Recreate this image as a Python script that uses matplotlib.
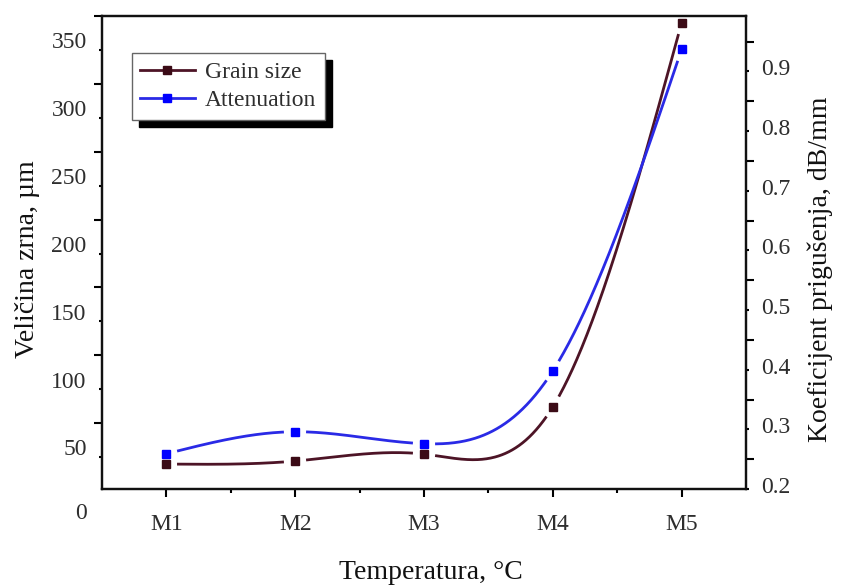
import numpy as np
import matplotlib
matplotlib.use("Agg")
import matplotlib.pyplot as plt
from matplotlib.patches import Rectangle
from matplotlib.transforms import ScaledTranslation

plt.rcParams['font.family'] = ['Liberation Serif', 'DejaVu Serif']

# Data
samples = ['M1', 'M2', 'M3', 'M4', 'M5']
grain_size = [44.9, 47.1, 52.2, 87.0, 370.0]        # um, left axis
attenuation = [0.259, 0.296, 0.276, 0.398, 0.937]   # dB/mm, right axis

left_ticks = [50, 100, 150, 200, 250, 300, 350]
right_ticks = [0.2, 0.3, 0.4, 0.5, 0.6, 0.7, 0.8, 0.9]

grain_line = '#4d1426'
grain_mark = '#3b0b16'
att_line = '#2a2ae6'
att_mark = '#0000ff'
text_col = '#2e2e2e'


def natural_spline(x, y, xs):
    x = np.asarray(x, float)
    y = np.asarray(y, float)
    n = len(x)
    h = np.diff(x)
    A = np.zeros((n, n))
    r = np.zeros(n)
    A[0, 0] = A[-1, -1] = 1
    for i in range(1, n - 1):
        A[i, i - 1] = h[i - 1]
        A[i, i] = 2 * (h[i - 1] + h[i])
        A[i, i + 1] = h[i]
        r[i] = 3 * ((y[i + 1] - y[i]) / h[i] - (y[i] - y[i - 1]) / h[i - 1])
    c = np.linalg.solve(A, r)
    b = (y[1:] - y[:-1]) / h - h * (2 * c[:-1] + c[1:]) / 3
    d = (c[1:] - c[:-1]) / (3 * h)
    idx = np.clip(np.searchsorted(x, xs) - 1, 0, n - 2)
    dx = xs - x[idx]
    return y[idx] + b[idx] * dx + c[idx] * dx ** 2 + d[idx] * dx ** 3


fig = plt.figure(figsize=(8.41, 5.85), dpi=100)
ax = fig.add_axes([102 / 841, 1 - 489 / 585, 644 / 841, 473 / 585])
ax2 = ax.twinx()

xpos = np.arange(1, len(samples) + 1)
ax.set_xlim(0.5, 5.5)
ax.set_ylim(26.5, 374.3)
ax2.set_ylim(0.2, 0.993)


# spline through the points, with a small gap round every symbol
def gapped_curve(axis, yvals, gap_px=12):
    xs = np.linspace(1, 5, 600)
    ys = natural_spline(xpos, yvals, xs)
    disp = axis.transData.transform(np.column_stack([xs, ys]))
    mk = axis.transData.transform(np.column_stack([xpos, yvals]))
    for p in mk:
        near = np.hypot(disp[:, 0] - p[0], disp[:, 1] - p[1]) < gap_px
        ys[near] = np.nan
    return xs, ys


xs, ys = gapped_curve(ax, grain_size)
ax.plot(xs, ys, color=grain_line, lw=2, clip_on=False)
ax.plot(xpos, grain_size, ls='none', marker='s', ms=6, color=grain_mark, clip_on=False)

xs, ys = gapped_curve(ax2, attenuation)
ax2.plot(xs, ys, color=att_line, lw=2, clip_on=False)
ax2.plot(xpos, attenuation, ls='none', marker='s', ms=6, color=att_mark, clip_on=False)

# axes / ticks
for a in (ax, ax2):
    for s in a.spines.values():
        s.set_linewidth(1.6)
        s.set_color('#111111')

ax.set_xticks(xpos)
ax.set_xticklabels(samples)
ax.set_xticks([1.5, 2.5, 3.5, 4.5], minor=True)
ax.tick_params(axis='x', which='major', direction='out', length=6, width=1.5,
               pad=12, labelsize=17, labelcolor=text_col)
ax.tick_params(axis='x', which='minor', direction='out', length=3, width=1.5)

ax.set_yticks(left_ticks)
ax.set_yticks([v + 25 for v in left_ticks], minor=True)
ax.tick_params(axis='y', which='major', direction='out', length=2, width=1.5,
               pad=9, labelsize=17, labelcolor=text_col)
ax.tick_params(axis='y', which='minor', direction='out', length=6, width=1.5)

ax2.set_yticks(right_ticks)
ax2.set_yticks([v + 0.05 for v in right_ticks], minor=True)
ax2.set_yticklabels(['%.1f' % v for v in right_ticks])
ax2.tick_params(axis='y', which='major', direction='out', length=2, width=1.5,
                pad=9, labelsize=17, labelcolor=text_col)
ax2.tick_params(axis='y', which='minor', direction='out', length=6, width=1.5)

# labels sit a little above their ticks in the reference
up_left = ScaledTranslation(0, 7 / 72, fig.dpi_scale_trans)
for lab in ax.get_yticklabels():
    lab.set_transform(lab.get_transform() + up_left)
up_right = ScaledTranslation(0, 3 / 72, fig.dpi_scale_trans)
for lab in ax2.get_yticklabels():
    lab.set_transform(lab.get_transform() + up_right)

ax.annotate('0', xy=(0, 0), xycoords=ax.get_yaxis_transform(),
            xytext=(-11, 8), textcoords='offset points', ha='right', va='center',
            fontsize=17, color=text_col, annotation_clip=False)

ax.set_xlabel('Temperatura, °C', fontsize=20, color='#111111', labelpad=18)
ax.xaxis.label.set_x(0.51)
ax.set_ylabel('Veličina zrna, µm', fontsize=20, color='#111111', labelpad=8)
ax.yaxis.label.set_y(0.485)
ax2.set_ylabel('Koeficijent prigušenja, dB/mm', fontsize=20, color='#111111', labelpad=12)
ax2.yaxis.label.set_y(0.465)

# legend with a hard black shadow
h1, = ax.plot([], [], color=grain_line, lw=2, marker='s', ms=6, mfc=grain_mark, mec=grain_mark)
h2, = ax.plot([], [], color=att_line, lw=2, marker='s', ms=6, mfc=att_mark, mec=att_mark)
leg = ax2.legend([h1, h2], ['Grain size', 'Attenuation'], loc='upper left',
                 bbox_to_anchor=(132 / 841, 1 - 53 / 585), bbox_transform=fig.transFigure,
                 borderaxespad=0, fancybox=False, framealpha=1, edgecolor='#666666',
                 fontsize=17, handlelength=2.3, handletextpad=0.45, labelspacing=0.3,
                 borderpad=0.35)
leg.get_frame().set_linewidth(1.0)
for t in leg.get_texts():
    t.set_color(text_col)

fig.canvas.draw()
bb = leg.get_window_extent().transformed(fig.transFigure.inverted())
fig.patches.append(Rectangle((bb.x0 + 7 / 841, bb.y0 - 7 / 585), bb.width, bb.height,
                             transform=fig.transFigure, color='black', zorder=0.5))
ax.set_zorder(1)
ax2.set_zorder(2)
ax.patch.set_visible(False)
ax2.patch.set_visible(False)

fig.savefig('out.png', dpi=100)
